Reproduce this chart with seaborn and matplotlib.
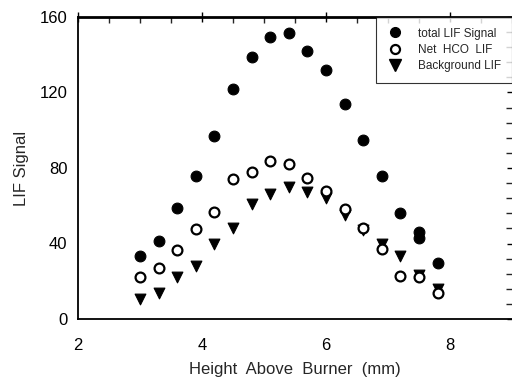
import numpy as np
import pandas as pd
import seaborn as sns
import matplotlib
matplotlib.use("Agg")
import matplotlib.pyplot as plt
from matplotlib.ticker import MultipleLocator
from matplotlib.lines import Line2D

# Data
total_x = [3.0, 3.3, 3.6, 3.9, 4.2, 4.5, 4.8, 5.1, 5.4, 5.7, 6.0, 6.3, 6.6, 6.9, 7.2, 7.5, 7.5, 7.8]
total_y = [33.5, 41.5, 59, 76, 97, 122, 139, 149.5, 151.5, 142, 132, 114, 95, 76, 56, 46, 43, 29.5]

net_x = [3.0, 3.3, 3.6, 3.9, 4.2, 4.5, 4.8, 5.1, 5.4, 5.7, 6.0, 6.3, 6.6, 6.9, 7.2, 7.5, 7.8]
net_y = [22.5, 27, 36.5, 47.5, 56.5, 74, 78, 83.5, 82, 74.5, 68, 58.5, 48, 37, 23, 22, 13.7]

bg_x = [3.0, 3.3, 3.6, 3.9, 4.2, 4.5, 4.8, 5.1, 5.4, 5.7, 6.0, 6.3, 6.6, 6.9, 7.2, 7.5, 7.8]
bg_y = [10.7, 14, 22, 28, 40, 48, 61, 66, 70, 67.5, 64, 55, 47, 39.5, 33.5, 23.5, 16]

labels = ["total LIF Signal", "Net  HCO  LIF", "Background LIF"]
x_ticks = [2, 4, 6, 8]
y_ticks = [0, 40, 80, 120, 160]

sns.set_style("white")
plt.rcParams["font.family"] = ["Liberation Sans", "DejaVu Sans"]

fig = plt.figure(figsize=(5.12, 3.80), dpi=100)
ax = fig.add_axes([78 / 512, 1 - 319 / 380, 434 / 512, 302 / 380])

df_t = pd.DataFrame({"x": total_x, "y": total_y})
df_n = pd.DataFrame({"x": net_x, "y": net_y})
df_b = pd.DataFrame({"x": bg_x, "y": bg_y})

sns.scatterplot(data=df_t, x="x", y="y", ax=ax, marker="o", s=60,
                color="black", edgecolor="black", linewidth=0.8, zorder=3)
sns.scatterplot(data=df_n, x="x", y="y", ax=ax, marker="o", s=50,
                facecolor="white", edgecolor="black", linewidth=1.6, zorder=3)
sns.scatterplot(data=df_b, x="x", y="y", ax=ax, marker="v", s=60,
                color="black", edgecolor="black", linewidth=0.8, zorder=2)

ax.set_xlim(2, 9)
ax.set_ylim(0, 160)
ax.set_xticks(x_ticks)
ax.set_yticks(y_ticks)
ax.xaxis.set_minor_locator(MultipleLocator(0.5))
ax.yaxis.set_minor_locator(MultipleLocator(8))

for side in ["left", "bottom", "top"]:
    ax.spines[side].set_color("black")
    ax.spines[side].set_linewidth(1.3)
ax.spines["top"].set_linewidth(2.0)
ax.spines["right"].set_visible(False)

ax.tick_params(axis="both", which="major", direction="inout", length=7, width=1.0,
               labelsize=12, colors="black", pad=4,
               top=True, right=True)
ax.tick_params(axis="x", which="major", pad=10)
ax.tick_params(axis="both", which="minor", direction="in", length=4, width=1.0,
               top=True, right=True)

ax.set_xlabel("Height  Above  Burner  (mm)", fontsize=12, labelpad=7)
ax.set_ylabel("LIF Signal", fontsize=12, labelpad=8)

handles = [
    Line2D([], [], marker="o", ls="", color="black", markersize=7),
    Line2D([], [], marker="o", ls="", markerfacecolor="white", markeredgecolor="black",
           markeredgewidth=1.6, markersize=6.5),
    Line2D([], [], marker="v", ls="", color="black", markersize=8),
]
leg = ax.legend(handles, labels, loc="upper right", bbox_to_anchor=(1.0, 1.0),
                borderaxespad=0, fontsize=8.5, frameon=True, fancybox=False,
                handletextpad=1.2, borderpad=0.9, labelspacing=0.35,
                handlelength=1.5)
leg.get_frame().set_edgecolor("black")
leg.get_frame().set_linewidth(0.8)

fig.savefig("out.png", dpi=100)
